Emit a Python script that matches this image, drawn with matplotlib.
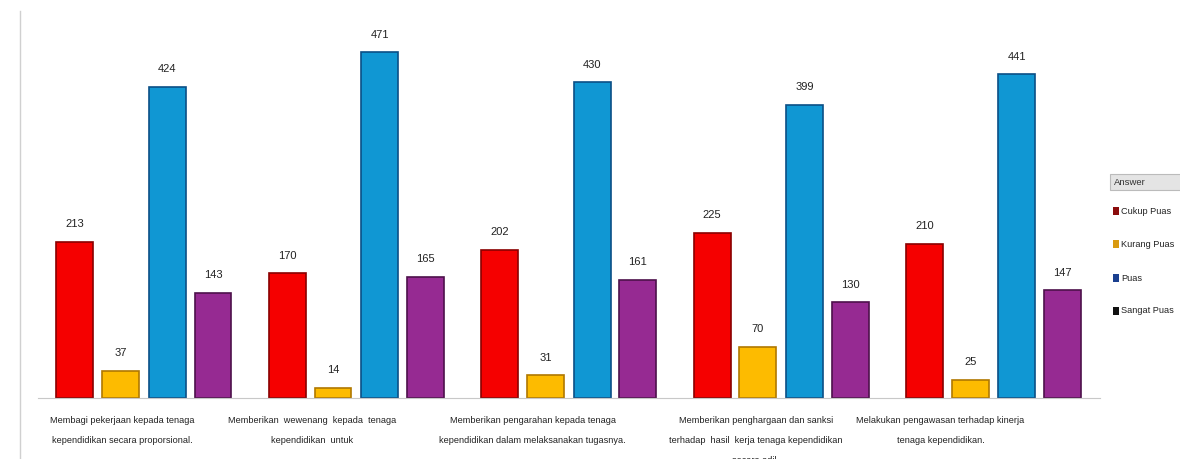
import matplotlib.pyplot as plt
import numpy as np

categories = [
    'Membagi pekerjaan kepada tenaga\nkependidikan secara proporsional.',
    'Memberikan  wewenang  kepada  tenaga\nkependidikan  untuk',
    'Memberikan pengarahan kepada tenaga\nkependidikan dalam melaksanakan tugasnya.',
    'Memberikan penghargaan dan sanksi\nterhadap  hasil  kerja tenaga kependidikan\nsecara adil.',
    'Melakukan pengawasan terhadap kinerja\ntenaga kependidikan.',
]
series_names = ['Cukup Puas', 'Kurang Puas', 'Puas', 'Sangat Puas']
cukup_puas = [213, 170, 202, 225, 210]
kurang_puas = [37, 14, 31, 70, 25]
puas = [424, 471, 430, 399, 441]
sangat_puas = [143, 165, 161, 130, 147]

bar_colors = ['#f50000', '#fdbb00', '#1097d3', '#962a92']
edge_colors = ['#8a0000', '#b07800', '#0b4f86', '#4d114b']
legend_colors = ['#8b0c0c', '#d99a10', '#1a3f8f', '#111111']

plt.rcParams['font.family'] = ['Liberation Sans', 'DejaVu Sans']

fig = plt.figure(figsize=(11.8, 4.59), dpi=100)
ax = fig.add_axes([0.032, 0.133, 0.9, 0.80])

x = np.arange(len(categories))
offsets = [-0.325, -0.11, 0.11, 0.325]
width = 0.174
for vals, off, c, ec in zip([cukup_puas, kurang_puas, puas, sangat_puas],
                            offsets, bar_colors, edge_colors):
    bars = ax.bar(x + off, vals, width, color=c, edgecolor=ec, linewidth=1.2)
    for b, v in zip(bars, vals):
        ax.text(b.get_x() + b.get_width() / 2, v + 17, str(v),
                ha='center', va='bottom', fontsize=8, color='#222222')

ax.set_xlim(-0.5, 4.5)
ax.set_ylim(0, 500)
# category labels sit a little left of their group, like in the source
label_shift = np.array([-0.10, -0.21, -0.17, -0.12, -0.25])
ax.set_xticks(x + label_shift)
ax.set_xticklabels(categories, fontsize=6.6, color='#222222', linespacing=2.6)
ax.tick_params(axis='x', length=0, pad=13)
ax.set_yticks([])
for s in ['top', 'right', 'left']:
    ax.spines[s].set_visible(False)
ax.spines['bottom'].set_color('#c8c8c8')

# left border line
fig.add_artist(plt.Line2D([0.017, 0.017], [0.0, 0.975], color='#d0d0d0', linewidth=1))

# legend panel at the right edge
fig.add_artist(plt.Rectangle((0.941, 0.585), 0.07, 0.035, facecolor='#e4e4e4',
                             edgecolor='#bbbbbb', linewidth=0.8))
fig.text(0.944, 0.602, 'Answer', fontsize=6.8, va='center', color='#333333')
ys = [0.54, 0.468, 0.394, 0.323]
for name, c, y in zip(series_names, legend_colors, ys):
    fig.add_artist(plt.Rectangle((0.943, y - 0.009), 0.005, 0.018, facecolor=c))
    fig.text(0.950, y, name, fontsize=6.6, va='center', color='#222222')

fig.savefig('out.png', dpi=100)
